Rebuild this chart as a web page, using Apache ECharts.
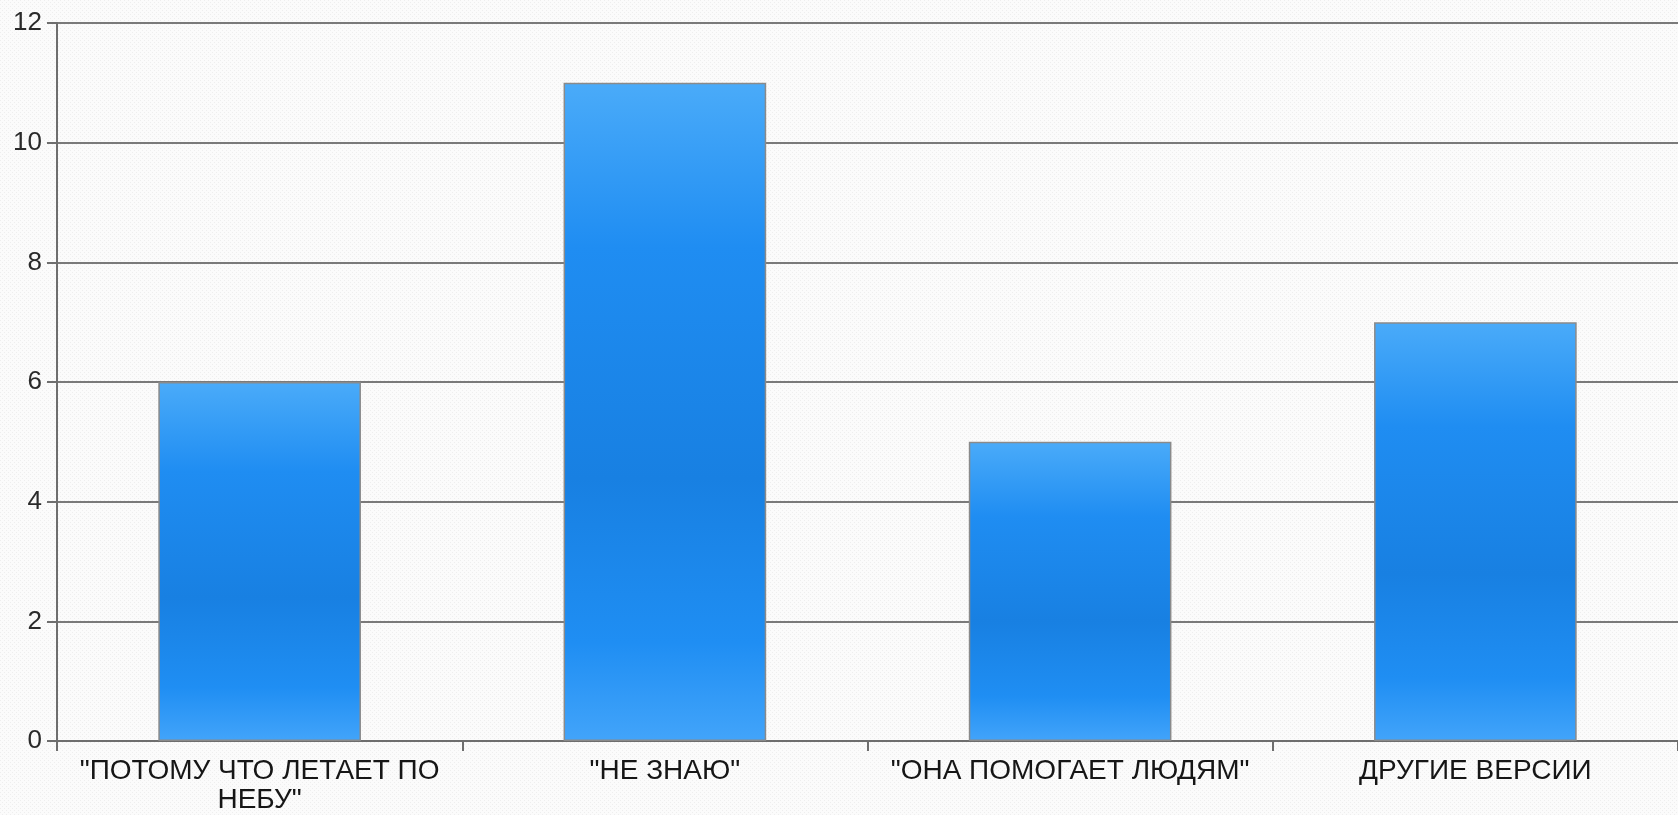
<!DOCTYPE html>
<html>
<head>
<meta charset="utf-8">
<script src="https://cdn.jsdelivr.net/npm/echarts@6/dist/echarts.min.js"></script>
<style>html,body{margin:0;padding:0;}#c{width:1678px;height:815px;}</style>
</head>
<body>
<div id="c"></div>
<script>
const categories = ['"ПОТОМУ ЧТО ЛЕТАЕТ ПО НЕБУ"', '"НЕ ЗНАЮ"', '"ОНА ПОМОГАЕТ ЛЮДЯМ"', 'ДРУГИЕ ВЕРСИИ'];
const values = [6, 11, 5, 7];
const yTicks = [0, 2, 4, 6, 8, 10, 12];

const FONT = 'Liberation Sans, Arial, sans-serif';
const X_FONT_SIZE = 28;
const MAX_LABEL_W = 395;

// word wrap by measured width
const mc = document.createElement('canvas').getContext('2d');
mc.font = X_FONT_SIZE + 'px ' + FONT;
function wrap(text) {
  const words = text.split(' ');
  const lines = [];
  let cur = '';
  words.forEach(w => {
    const t = cur ? cur + ' ' + w : w;
    if (cur && mc.measureText(t).width > MAX_LABEL_W) { lines.push(cur); cur = w; }
    else cur = t;
  });
  if (cur) lines.push(cur);
  return lines.join('\n');
}

// subtle dotted background pattern
const pat = document.createElement('canvas');
pat.width = 4; pat.height = 4;
const pc = pat.getContext('2d');
pc.fillStyle = '#fbfbfb'; pc.fillRect(0, 0, 4, 4);
pc.fillStyle = '#eeeeee'; pc.fillRect(0, 0, 1, 1); pc.fillRect(2, 2, 1, 1);

const chart = echarts.init(document.getElementById('c'));
chart.setOption({
  backgroundColor: { image: pat, repeat: 'repeat' },
  animation: false,
  grid: { left: 57, right: -7, top: 23, bottom: 74, containLabel: false },
  xAxis: {
    type: 'category',
    data: categories,
    axisLine: { lineStyle: { color: '#6e6e6e', width: 2 } },
    axisTick: { show: true, length: 10, alignWithLabel: false, lineStyle: { color: '#6e6e6e', width: 2 } },
    axisLabel: {
      interval: 0, margin: 16, color: '#161616',
      fontFamily: FONT, fontSize: X_FONT_SIZE, lineHeight: 29,
      formatter: v => wrap(v)
    }
  },
  yAxis: {
    type: 'value',
    min: yTicks[0], max: yTicks[yTicks.length - 1], interval: 2,
    axisLine: { show: true, lineStyle: { color: '#6e6e6e', width: 2 } },
    axisTick: { show: true, length: 10, lineStyle: { color: '#6e6e6e', width: 2 } },
    axisLabel: { margin: 15, color: '#2a2a2a', fontFamily: FONT, fontSize: 26 },
    splitLine: { show: true, lineStyle: { color: '#7a7a7a', width: 2 } }
  },
  series: [{
    type: 'bar',
    data: values,
    barWidth: '50%',
    itemStyle: {
      borderColor: '#8a8a8a', borderWidth: 1.5,
      color: new echarts.graphic.LinearGradient(0, 0, 0, 1, [
        { offset: 0, color: '#4aabf9' },
        { offset: 0.25, color: '#1f8df2' },
        { offset: 0.6, color: '#1880e2' },
        { offset: 0.85, color: '#1f8ef3' },
        { offset: 1, color: '#42a4fa' }
      ])
    }
  }]
});
</script>
</body>
</html>
